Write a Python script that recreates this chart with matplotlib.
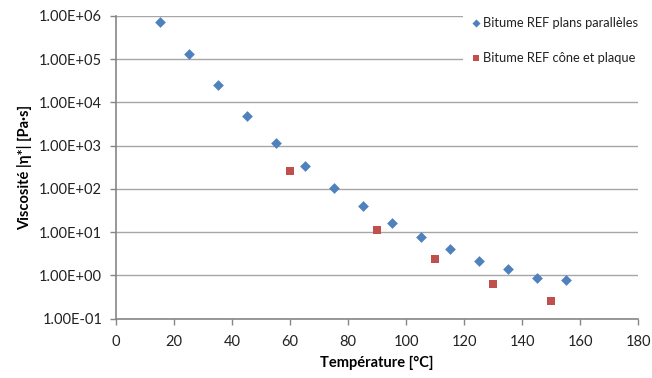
import numpy as np
import matplotlib
matplotlib.use("Agg")
import matplotlib.pyplot as plt
from matplotlib.ticker import FixedLocator, FuncFormatter, NullLocator

plt.rcParams['font.family'] = ['Lato', 'DejaVu Sans']

# Bitume REF - parallel plates
temp_pp = [15, 25, 35, 45, 55, 65, 75, 85, 95, 105, 115, 125, 135, 145, 155]
visc_pp = [7.3e5, 1.28e5, 2.5e4, 4.9e3, 1.15e3, 3.3e2, 1.05e2, 40.5, 16.6,
           7.7, 4.05, 2.13, 1.42, 0.87, 0.80]

# Bitume REF - cone and plate
temp_cp = [60, 90, 110, 130, 150]
visc_cp = [265, 11.5, 2.42, 0.63, 0.25]

blue = '#4F81BD'
red = '#C0504D'
grey = '#868686'

fig = plt.figure(figsize=(6.52, 3.78), dpi=100)
ax = fig.add_axes([0.178, 0.157, 0.801, 0.801])

ax.set_yscale('log')
ax.set_xlim(0, 180)
ax.set_ylim(0.1, 1e6)

ax.scatter(temp_pp, visc_pp, marker='D', s=30, color=blue, linewidths=0,
           label='Bitume REF plans parallèles', zorder=3)
ax.scatter(temp_cp, visc_cp, marker='s', s=30, color=red, linewidths=0,
           label='Bitume REF cône et plaque', zorder=3)

ax.xaxis.set_major_locator(FixedLocator(np.arange(0, 181, 20)))
ax.yaxis.set_major_locator(FixedLocator([10.0 ** k for k in range(-1, 7)]))
ax.yaxis.set_minor_locator(NullLocator())
ax.yaxis.set_major_formatter(FuncFormatter(lambda v, p: f"{v:.2E}"))

ax.grid(axis='y', color='#A6A6A6', linewidth=1.0, zorder=0)
ax.set_axisbelow(True)

for side in ('top', 'right'):
    ax.spines[side].set_visible(False)
for side in ('left', 'bottom'):
    ax.spines[side].set_color(grey)
    ax.spines[side].set_linewidth(1.2)

ax.tick_params(axis='both', direction='out', length=4, width=1, color=grey,
               labelsize=10.5, labelcolor='#222222')
ax.tick_params(axis='x', pad=8)
ax.tick_params(axis='y', pad=6)

ax.set_xlabel('Température [°C]', fontsize=10.5, fontweight='bold', labelpad=5)
ax.set_ylabel('Viscosité |η*| [Pa·s]', fontsize=10.5, fontweight='bold', labelpad=5)

leg = ax.legend(loc='upper left', bbox_to_anchor=(457 / 652, 1 - 5 / 378),
                bbox_transform=fig.transFigure, frameon=True, fancybox=False,
                edgecolor='none', facecolor='white', framealpha=1.0,
                fontsize=9.3, labelspacing=1.8, handletextpad=0.05,
                handlelength=1.1, borderpad=0.4, scatterpoints=1,
                markerscale=0.75)
leg.set_zorder(5)
for t in leg.get_texts():
    t.set_color('#222222')

fig.savefig('out.png', dpi=100)
